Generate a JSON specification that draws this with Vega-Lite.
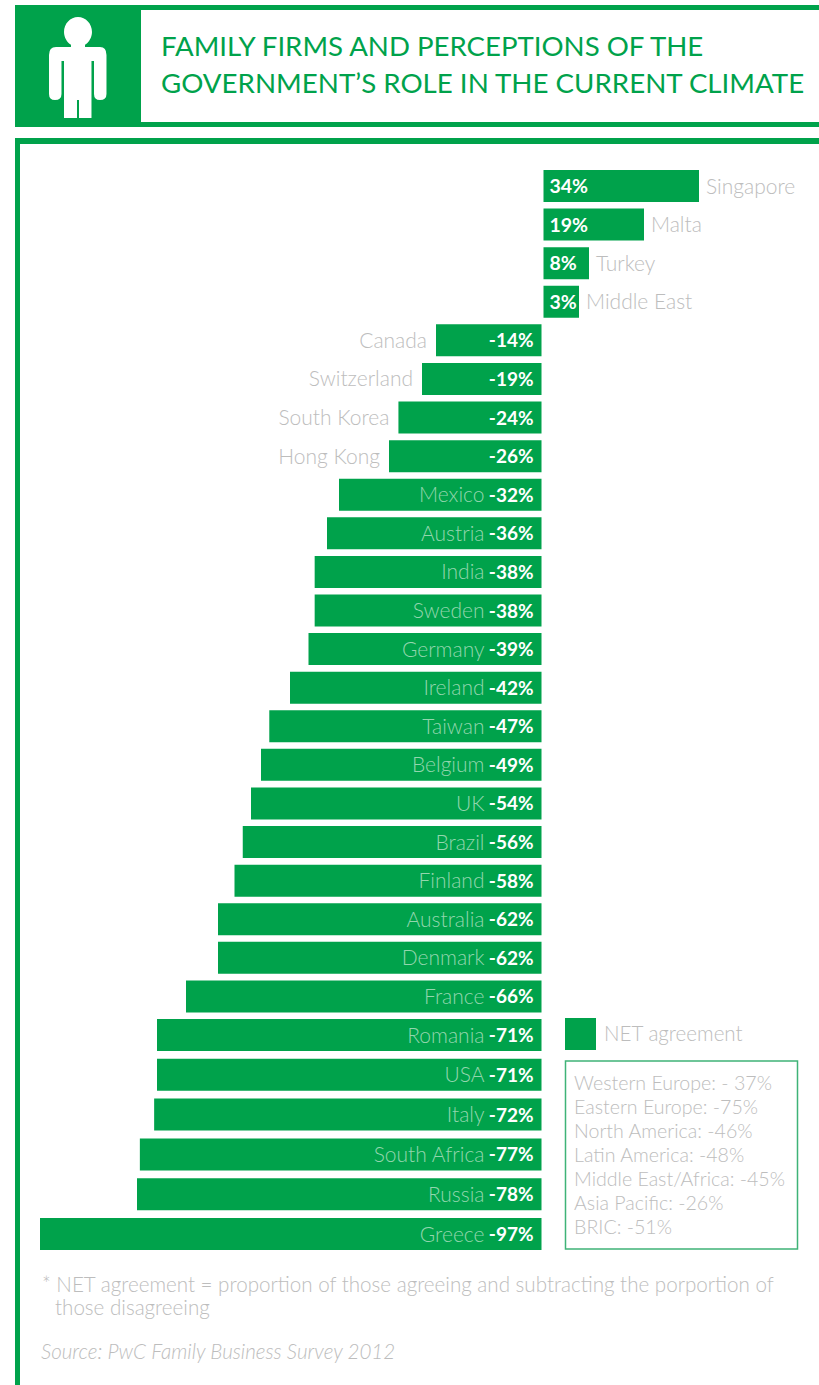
{
  "$schema": "https://vega.github.io/schema/vega-lite/v6.json",
  "description": "Net agreement by country. The x scale is deliberately piecewise: bar lengths are drawn from each stated value but are not proportional across the range.",
  "width": 819,
  "height": 1385,
  "padding": 0,
  "autosize": {"type": "none"},
  "background": "white",
  "config": {"view": {"stroke": null}, "text": {"font": "Lato"}},
  "datasets": {
    "countries": [
      {"country": "Singapore", "value": 34, "rank": 1},
      {"country": "Malta", "value": 19, "rank": 2},
      {"country": "Turkey", "value": 8, "rank": 3},
      {"country": "Middle East", "value": 3, "rank": 4},
      {"country": "Canada", "value": -14, "rank": 5},
      {"country": "Switzerland", "value": -19, "rank": 6},
      {"country": "South Korea", "value": -24, "rank": 7},
      {"country": "Hong Kong", "value": -26, "rank": 8},
      {"country": "Mexico", "value": -32, "rank": 9},
      {"country": "Austria", "value": -36, "rank": 10},
      {"country": "India", "value": -38, "rank": 11},
      {"country": "Sweden", "value": -38, "rank": 12},
      {"country": "Germany", "value": -39, "rank": 13},
      {"country": "Ireland", "value": -42, "rank": 14},
      {"country": "Taiwan", "value": -47, "rank": 15},
      {"country": "Belgium", "value": -49, "rank": 16},
      {"country": "UK", "value": -54, "rank": 17},
      {"country": "Brazil", "value": -56, "rank": 18},
      {"country": "Finland", "value": -58, "rank": 19},
      {"country": "Australia", "value": -62, "rank": 20},
      {"country": "Denmark", "value": -62, "rank": 21},
      {"country": "France", "value": -66, "rank": 22},
      {"country": "Romania", "value": -71, "rank": 23},
      {"country": "USA", "value": -71, "rank": 24},
      {"country": "Italy", "value": -72, "rank": 25},
      {"country": "South Africa", "value": -77, "rank": 26},
      {"country": "Russia", "value": -78, "rank": 27},
      {"country": "Greece", "value": -97, "rank": 28}
    ],
    "regions": [
      {"label": "Western Europe: - 37%", "line": 1},
      {"label": "Eastern Europe: -75%", "line": 2},
      {"label": "North America: -46%", "line": 3},
      {"label": "Latin America: -48%", "line": 4},
      {"label": "Middle East/Africa: -45%", "line": 5},
      {"label": "Asia Pacific: -26%", "line": 6},
      {"label": "BRIC: -51%", "line": 7}
    ]
  },
  "layer": [
    {"data": {"values": [{}]}, "mark": {"type": "rect", "fill": "#00a24b"}, "encoding": {"x": {"value": 15}, "x2": {"value": 819}, "y": {"value": 5}, "y2": {"value": 127}}},
    {"data": {"values": [{}]}, "mark": {"type": "rect", "fill": "white"}, "encoding": {"x": {"value": 141}, "x2": {"value": 819}, "y": {"value": 10}, "y2": {"value": 122}}},
    {"data": {"values": [{}]}, "mark": {"type": "rect", "fill": "#00a24b"}, "encoding": {"x": {"value": 15}, "x2": {"value": 819}, "y": {"value": 138}, "y2": {"value": 1385}}},
    {"data": {"values": [{}]}, "mark": {"type": "rect", "fill": "white"}, "encoding": {"x": {"value": 20}, "x2": {"value": 819}, "y": {"value": 144}, "y2": {"value": 1385}}},
    {
      "data": {"values": [{}]},
      "mark": {
        "type": "point", "filled": true, "fill": "white", "opacity": 1, "strokeWidth": 0, "size": 10201,
        "shape": "M-0.277,-0.703 A0.277,0.297 0 1 1 0.277,-0.703 A0.277,0.297 0 0 1 0.139,-0.45 L0.139,-0.406 L0.436,-0.406 Q0.564,-0.406 0.564,-0.248 L0.564,0.525 Q0.564,0.644 0.436,0.644 Q0.317,0.644 0.317,0.525 L0.317,-0.129 L0.267,-0.129 L0.267,1 L0.02,1 L0.02,0.644 L-0.02,0.644 L-0.02,1 L-0.277,1 L-0.277,-0.129 L-0.327,-0.129 L-0.327,0.525 Q-0.327,0.644 -0.455,0.644 Q-0.574,0.644 -0.574,0.525 L-0.574,-0.248 Q-0.574,-0.406 -0.436,-0.406 L-0.139,-0.406 L-0.139,-0.45 A0.277,0.297 0 0 1 -0.277,-0.703 Z"
      },
      "encoding": {"x": {"value": 78}, "y": {"value": 67.5}}
    },
    {"data": {"values": [{}]}, "mark": {"type": "text", "text": "FAMILY FIRMS AND PERCEPTIONS OF THE", "align": "left", "baseline": "middle", "fontSize": 27.6, "font": "Lato", "fill": "#00a24b"}, "encoding": {"x": {"value": 161}, "y": {"value": 48}}},
    {"data": {"values": [{}]}, "mark": {"type": "text", "text": "GOVERNMENT’S ROLE IN THE CURRENT CLIMATE", "align": "left", "baseline": "middle", "fontSize": 27.7, "font": "Lato", "fill": "#00a24b"}, "encoding": {"x": {"value": 161}, "y": {"value": 85}}},
    {"data": {"values": [{}]}, "mark": {"type": "rect", "fill": "#00a24b"}, "encoding": {"x": {"value": 565}, "x2": {"value": 596}, "y": {"value": 1018}, "y2": {"value": 1050}}},
    {"data": {"values": [{}]}, "mark": {"type": "text", "text": "NET agreement", "align": "left", "baseline": "middle", "fontSize": 20.6, "fontWeight": 300, "fill": "#bdbdbd"}, "encoding": {"x": {"value": 604}, "y": {"value": 1035}}},
    {"data": {"values": [{}]}, "mark": {"type": "rect", "fill": "white", "stroke": "#3fb377", "strokeWidth": 1.5}, "encoding": {"x": {"value": 565.5}, "x2": {"value": 797.5}, "y": {"value": 1061}, "y2": {"value": 1249}}},
    {"data": {"values": [{}]}, "mark": {"type": "text", "text": "* NET agreement = proportion of those agreeing and subtracting the porportion of", "align": "left", "baseline": "middle", "fontSize": 20.6, "fontWeight": 300, "fill": "#bdbdbd"}, "encoding": {"x": {"value": 42}, "y": {"value": 1286}}},
    {"data": {"values": [{}]}, "mark": {"type": "text", "text": "those disagreeing", "align": "left", "baseline": "middle", "fontSize": 20.6, "fontWeight": 300, "fill": "#bdbdbd"}, "encoding": {"x": {"value": 55}, "y": {"value": 1309}}},
    {"data": {"values": [{}]}, "mark": {"type": "text", "text": "Source: PwC Family Business Survey 2012", "align": "left", "baseline": "middle", "fontSize": 20.6, "fontWeight": 300, "fontStyle": "italic", "fill": "#bdbdbd"}, "encoding": {"x": {"value": 41}, "y": {"value": 1353}}},
    {
      "data": {"name": "regions"},
      "mark": {"type": "text", "align": "left", "baseline": "middle", "fontSize": 19.6, "fontWeight": 300, "fill": "#bdbdbd"},
      "encoding": {
        "x": {"value": 574},
        "y": {"field": "line", "type": "quantitative", "axis": null, "scale": {"domain": [1, 7], "range": [1084, 1228], "nice": false, "zero": false}},
        "text": {"field": "label"}
      }
    },
    {
      "data": {"name": "countries"},
      "encoding": {
        "y": {"field": "rank", "type": "quantitative", "axis": null, "scale": {"domain": [1, 23, 28], "range": [186, 1035, 1234], "nice": false, "zero": false, "padding": 0}}
      },
      "layer": [
        {
          "transform": [{"filter": "datum.value < 0"}],
          "mark": {"type": "bar", "orient": "horizontal", "size": 32, "fill": "#00a24b"},
          "encoding": {
            "x": {"field": "value", "type": "quantitative", "axis": null, "scale": {"domain": [-97, -78, -71, -66, -62, -54, -49, -42, -36, -32, -26, -19, -14, 0, 3, 8, 19, 34], "range": [40, 137, 157, 186, 218, 251, 261, 290, 327, 339, 389, 422, 436, 541.5, 577, 587, 642, 697], "nice": false, "zero": false, "padding": 0}},
            "x2": {"datum": 0}
          }
        },
        {
          "transform": [{"filter": "datum.value > 0"}],
          "mark": {"type": "bar", "orient": "horizontal", "size": 32, "fill": "#00a24b", "xOffset": 2, "x2Offset": 2},
          "encoding": {"x": {"field": "value", "type": "quantitative", "axis": null}, "x2": {"datum": 0}}
        },
        {
          "transform": [{"filter": "datum.value > 0"}, {"calculate": "datum.value + '%'", "as": "valueText"}],
          "mark": {"type": "text", "align": "left", "baseline": "middle", "dx": 8, "dy": 1, "fontSize": 19.5, "fontWeight": "bold", "fill": "white"},
          "encoding": {"x": {"datum": 0, "type": "quantitative", "axis": null}, "text": {"field": "valueText"}}
        },
        {
          "transform": [{"filter": "datum.value < 0"}, {"calculate": "datum.value + '%'", "as": "valueText"}],
          "mark": {"type": "text", "align": "right", "baseline": "middle", "dx": -8, "dy": 1, "fontSize": 19, "fontWeight": "bold", "fill": "white"},
          "encoding": {"x": {"datum": 0, "type": "quantitative", "axis": null}, "text": {"field": "valueText"}}
        },
        {
          "transform": [{"filter": "datum.value > 0"}],
          "mark": {"type": "text", "align": "left", "baseline": "middle", "dx": 9, "dy": 1.5, "fontSize": 21, "fontWeight": 300, "fill": "#bdbdbd"},
          "encoding": {"x": {"field": "value", "type": "quantitative", "axis": null}, "text": {"field": "country"}}
        },
        {
          "transform": [{"filter": "datum.value < 0 && datum.value > -30"}],
          "mark": {"type": "text", "align": "right", "baseline": "middle", "dx": -9, "dy": 1.5, "fontSize": 21, "fontWeight": 300, "fill": "#bdbdbd"},
          "encoding": {"x": {"field": "value", "type": "quantitative", "axis": null}, "text": {"field": "country"}}
        },
        {
          "transform": [{"filter": "datum.value <= -30"}],
          "mark": {"type": "text", "align": "right", "baseline": "middle", "dx": -57, "dy": 1.5, "fontSize": 21, "fontWeight": 300, "fill": "#93d6ae"},
          "encoding": {"x": {"datum": 0, "type": "quantitative", "axis": null}, "text": {"field": "country"}}
        }
      ]
    }
  ],
  "resolve": {"scale": {"y": "independent"}}
}
